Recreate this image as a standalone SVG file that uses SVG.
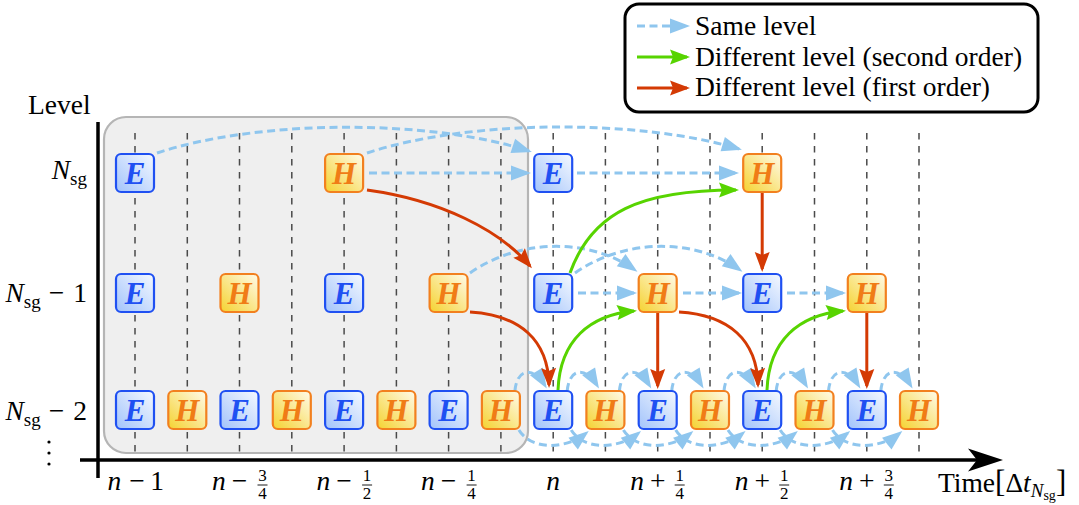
<svg xmlns="http://www.w3.org/2000/svg" width="1079" height="505" viewBox="0 0 1079 505">
<defs>
<style>
.t{font-family:'Liberation Serif','DejaVu Serif',serif;font-size:27.5px;fill:#000}
.it{font-style:italic}
.fr{font-family:'Liberation Serif','DejaVu Serif',serif;font-size:17px;text-anchor:middle}
.nt{font-family:'Liberation Serif','DejaVu Serif',serif;font-size:31px;font-weight:bold;font-style:italic;text-anchor:middle}
.E rect{fill:url(#gE);stroke:#1f50f2;stroke-width:2.2}
.E text{fill:#1f50f2}
.H rect{fill:url(#gH);stroke:#f2801f;stroke-width:2.2}
.H text{fill:#f07c16}
.grid line{stroke:#4a4a4a;stroke-width:1.5;stroke-dasharray:6.5 6.5}
.same{fill:none;stroke:#8fc6ee;stroke-width:3;stroke-dasharray:8 4.5;marker-end:url(#mb)}
.first{fill:none;stroke:#d43a04;stroke-width:3;marker-end:url(#mr)}
.second{fill:none;stroke:#57d400;stroke-width:3;marker-end:url(#mg)}
</style>
<linearGradient id="gE" x1="0" y1="1" x2="1" y2="0">
<stop offset="0" stop-color="#a2c3fb"/><stop offset="1" stop-color="#f5f9ff"/>
</linearGradient>
<linearGradient id="gH" x1="0" y1="1" x2="1" y2="0">
<stop offset="0" stop-color="#f5d230"/><stop offset="1" stop-color="#fffbea"/>
</linearGradient>
<marker id="mb" markerUnits="userSpaceOnUse" orient="auto" overflow="visible" markerWidth="1" markerHeight="1"><path d="M3,0 L-17,-7.5 L-17,7.5 Z" fill="#8fc6ee"/></marker>
<marker id="mr" markerUnits="userSpaceOnUse" orient="auto" overflow="visible" markerWidth="1" markerHeight="1"><path d="M3,0 L-17,-7.5 L-14,0 L-17,7.5 Z" fill="#d43a04"/></marker>
<marker id="mg" markerUnits="userSpaceOnUse" orient="auto" overflow="visible" markerWidth="1" markerHeight="1"><path d="M3,0 L-17,-7.5 L-14,0 L-17,7.5 Z" fill="#57d400"/></marker>
</defs>
<rect width="1079" height="505" fill="#fff"/>

<rect id="past-region" x="104" y="117" width="424" height="336" rx="22" fill="#efefef" stroke="#b5b5b5" stroke-width="2.2"/>

<g class="grid" id="grid">
<line x1="135" y1="133" x2="135" y2="458"/>
<line x1="187.3" y1="133" x2="187.3" y2="458"/>
<line x1="239.5" y1="133" x2="239.5" y2="458"/>
<line x1="291.8" y1="133" x2="291.8" y2="458"/>
<line x1="344.1" y1="133" x2="344.1" y2="458"/>
<line x1="396.4" y1="133" x2="396.4" y2="458"/>
<line x1="448.6" y1="133" x2="448.6" y2="458"/>
<line x1="500.9" y1="133" x2="500.9" y2="458"/>
<line x1="553.2" y1="133" x2="553.2" y2="458"/>
<line x1="605.4" y1="133" x2="605.4" y2="458"/>
<line x1="657.7" y1="133" x2="657.7" y2="458"/>
<line x1="710" y1="133" x2="710" y2="458"/>
<line x1="762.2" y1="133" x2="762.2" y2="458"/>
<line x1="814.5" y1="133" x2="814.5" y2="458"/>
<line x1="866.8" y1="133" x2="866.8" y2="458"/>
<line x1="919" y1="133" x2="919" y2="458"/>
</g>

<g id="axes">
<line x1="98" y1="122" x2="98" y2="478" stroke="#000" stroke-width="3.5"/>
<line x1="80" y1="460" x2="985" y2="460" stroke="#000" stroke-width="3.5"/>
<path d="M1003,460 L968,448.5 L977,460 L968,471.5 Z" fill="#000"/>
</g>

<g id="connectors">
<path class="same" d="M157,153 C260,119 430,119 529,151"/>
<path class="same" d="M367,153 C470,119 640,119 739,149"/>
<path class="same" d="M369,173 L528,173"/>
<path class="same" d="M577,173 L736,173"/>
<path class="same" d="M470,273 C520,238 590,238 635,270"/>
<path class="same" d="M575,273 C625,238 695,238 740,270"/>
<path class="same" d="M578,293 L634,293"/>
<path class="same" d="M683,293 L739,293"/>
<path class="same" d="M787,293 L843,293"/>
<path class="same" d="M514.9,391 C516.9,368 533.2,366 545.2,386"/>
<path class="same" d="M567.2,391 C569.2,368 585.4,366 597.4,386"/>
<path class="same" d="M619.4,391 C621.4,368 637.7,366 649.7,386"/>
<path class="same" d="M671.7,391 C673.7,368 690,366 702,386"/>
<path class="same" d="M724,391 C726,368 742.2,366 754.2,386"/>
<path class="same" d="M776.2,391 C778.2,368 794.5,366 806.5,386"/>
<path class="same" d="M828.5,391 C830.5,368 846.8,366 858.8,386"/>
<path class="same" d="M880.8,391 C882.8,368 899,366 911,386"/>
<path class="same" d="M518.9,430 C530.9,450 565.4,450 586.4,433"/>
<path class="same" d="M571.2,430 C583.2,450 617.7,450 638.7,433"/>
<path class="same" d="M623.4,430 C635.4,450 670,450 691,433"/>
<path class="same" d="M675.7,430 C687.7,450 722.2,450 743.2,433"/>
<path class="same" d="M728,430 C740,450 774.5,450 795.5,433"/>
<path class="same" d="M780.2,430 C792.2,450 826.8,450 847.8,433"/>
<path class="same" d="M832.5,430 C844.5,450 879,450 900,433"/>
<path class="first" d="M367,190 C440,200 500,230 530,266"/>
<path class="first" d="M470,312 C520,315 548,340 549,385"/>
<path class="first" d="M762.2,193 L762.2,269"/>
<path class="first" d="M657.7,313 L657.7,386"/>
<path class="first" d="M679,312 C729,315 757,340 758,385"/>
<path class="first" d="M866.8,313 L866.8,386"/>
<path class="second" d="M570,273 C592,212 640,190 736,190"/>
<path class="second" d="M558,390 C560,340 590,315 634,311"/>
<path class="second" d="M767,390 C769,340 799,315 843,311"/>
</g>

<g id="top-E-0" class="E"><rect x="116" y="154" width="38" height="38" rx="5"/><text class="nt" x="135" y="184">E</text></g>
<g id="top-H-4" class="H"><rect x="325.1" y="154" width="38" height="38" rx="5"/><text class="nt" x="344.1" y="184">H</text></g>
<g id="top-E-8" class="E"><rect x="534.2" y="154" width="38" height="38" rx="5"/><text class="nt" x="553.2" y="184">E</text></g>
<g id="top-H-12" class="H"><rect x="743.2" y="154" width="38" height="38" rx="5"/><text class="nt" x="762.2" y="184">H</text></g>

<g id="mid-E-0" class="E"><rect x="116" y="274" width="38" height="38" rx="5"/><text class="nt" x="135" y="304">E</text></g>
<g id="mid-H-2" class="H"><rect x="220.5" y="274" width="38" height="38" rx="5"/><text class="nt" x="239.5" y="304">H</text></g>
<g id="mid-E-4" class="E"><rect x="325.1" y="274" width="38" height="38" rx="5"/><text class="nt" x="344.1" y="304">E</text></g>
<g id="mid-H-6" class="H"><rect x="429.6" y="274" width="38" height="38" rx="5"/><text class="nt" x="448.6" y="304">H</text></g>
<g id="mid-E-8" class="E"><rect x="534.2" y="274" width="38" height="38" rx="5"/><text class="nt" x="553.2" y="304">E</text></g>
<g id="mid-H-10" class="H"><rect x="638.7" y="274" width="38" height="38" rx="5"/><text class="nt" x="657.7" y="304">H</text></g>
<g id="mid-E-12" class="E"><rect x="743.2" y="274" width="38" height="38" rx="5"/><text class="nt" x="762.2" y="304">E</text></g>
<g id="mid-H-14" class="H"><rect x="847.8" y="274" width="38" height="38" rx="5"/><text class="nt" x="866.8" y="304">H</text></g>

<g id="bot-E-0" class="E"><rect x="116" y="391" width="38" height="38" rx="5"/><text class="nt" x="135" y="421">E</text></g>
<g id="bot-H-1" class="H"><rect x="168.3" y="391" width="38" height="38" rx="5"/><text class="nt" x="187.3" y="421">H</text></g>
<g id="bot-E-2" class="E"><rect x="220.5" y="391" width="38" height="38" rx="5"/><text class="nt" x="239.5" y="421">E</text></g>
<g id="bot-H-3" class="H"><rect x="272.8" y="391" width="38" height="38" rx="5"/><text class="nt" x="291.8" y="421">H</text></g>
<g id="bot-E-4" class="E"><rect x="325.1" y="391" width="38" height="38" rx="5"/><text class="nt" x="344.1" y="421">E</text></g>
<g id="bot-H-5" class="H"><rect x="377.4" y="391" width="38" height="38" rx="5"/><text class="nt" x="396.4" y="421">H</text></g>
<g id="bot-E-6" class="E"><rect x="429.6" y="391" width="38" height="38" rx="5"/><text class="nt" x="448.6" y="421">E</text></g>
<g id="bot-H-7" class="H"><rect x="481.9" y="391" width="38" height="38" rx="5"/><text class="nt" x="500.9" y="421">H</text></g>
<g id="bot-E-8" class="E"><rect x="534.2" y="391" width="38" height="38" rx="5"/><text class="nt" x="553.2" y="421">E</text></g>
<g id="bot-H-9" class="H"><rect x="586.4" y="391" width="38" height="38" rx="5"/><text class="nt" x="605.4" y="421">H</text></g>
<g id="bot-E-10" class="E"><rect x="638.7" y="391" width="38" height="38" rx="5"/><text class="nt" x="657.7" y="421">E</text></g>
<g id="bot-H-11" class="H"><rect x="691" y="391" width="38" height="38" rx="5"/><text class="nt" x="710" y="421">H</text></g>
<g id="bot-E-12" class="E"><rect x="743.2" y="391" width="38" height="38" rx="5"/><text class="nt" x="762.2" y="421">E</text></g>
<g id="bot-H-13" class="H"><rect x="795.5" y="391" width="38" height="38" rx="5"/><text class="nt" x="814.5" y="421">H</text></g>
<g id="bot-E-14" class="E"><rect x="847.8" y="391" width="38" height="38" rx="5"/><text class="nt" x="866.8" y="421">E</text></g>
<g id="bot-H-15" class="H"><rect x="900" y="391" width="38" height="38" rx="5"/><text class="nt" x="919" y="421">H</text></g>

<g id="y-labels">
<text class="t" x="28" y="114">Level</text>
<text class="t" x="87" y="179" text-anchor="end"><tspan class="it">N</tspan><tspan font-size="19" dy="6">sg</tspan></text>
<text class="t" x="87" y="302" text-anchor="end"><tspan class="it">N</tspan><tspan font-size="19" dy="6">sg</tspan><tspan dy="-6" dx="8">−</tspan><tspan dx="9">1</tspan></text>
<text class="t" x="87" y="420" text-anchor="end"><tspan class="it">N</tspan><tspan font-size="19" dy="6">sg</tspan><tspan dy="-6" dx="8">−</tspan><tspan dx="9">2</tspan></text>
<circle cx="49" cy="442" r="1.6"/><circle cx="49" cy="453" r="1.6"/><circle cx="49" cy="464" r="1.6"/>
</g>

<g id="x-labels">
<text class="t" x="107.5" y="490"><tspan class="it">n</tspan></text><text class="t" x="137" y="490" text-anchor="middle">−</text><text class="t" x="157" y="490" text-anchor="middle">1</text>

<text class="t" x="212" y="490"><tspan class="it">n</tspan></text><text class="t" x="239.5" y="490" text-anchor="middle">−</text>
<text class="fr" x="262.5" y="481">3</text><line x1="257.5" y1="485" x2="267.5" y2="485" stroke="#000" stroke-width="0.9"/><text class="fr" x="262.5" y="499">4</text>

<text class="t" x="316.6" y="490"><tspan class="it">n</tspan></text><text class="t" x="344.1" y="490" text-anchor="middle">−</text>
<text class="fr" x="367.1" y="481">1</text><line x1="362.1" y1="485" x2="372.1" y2="485" stroke="#000" stroke-width="0.9"/><text class="fr" x="367.1" y="499">2</text>

<text class="t" x="421.1" y="490"><tspan class="it">n</tspan></text><text class="t" x="448.6" y="490" text-anchor="middle">−</text>
<text class="fr" x="471.6" y="481">1</text><line x1="466.6" y1="485" x2="476.6" y2="485" stroke="#000" stroke-width="0.9"/><text class="fr" x="471.6" y="499">4</text>

<text class="t it" x="553.2" y="490" text-anchor="middle">n</text>

<text class="t" x="630.2" y="490"><tspan class="it">n</tspan></text><text class="t" x="657.7" y="490" text-anchor="middle">+</text>
<text class="fr" x="679.7" y="481">1</text><line x1="674.7" y1="485" x2="684.7" y2="485" stroke="#000" stroke-width="0.9"/><text class="fr" x="679.7" y="499">4</text>

<text class="t" x="734.7" y="490"><tspan class="it">n</tspan></text><text class="t" x="762.2" y="490" text-anchor="middle">+</text>
<text class="fr" x="784.2" y="481">1</text><line x1="779.2" y1="485" x2="789.2" y2="485" stroke="#000" stroke-width="0.9"/><text class="fr" x="784.2" y="499">2</text>

<text class="t" x="839.3" y="490"><tspan class="it">n</tspan></text><text class="t" x="866.8" y="490" text-anchor="middle">+</text>
<text class="fr" x="888.8" y="481">3</text><line x1="883.8" y1="485" x2="893.8" y2="485" stroke="#000" stroke-width="0.9"/><text class="fr" x="888.8" y="499">4</text>

<text class="t" x="938" y="492">Time<tspan font-size="31">[</tspan>Δ<tspan class="it">t</tspan><tspan class="it" font-size="19" dy="5">N</tspan><tspan font-size="14" dy="3">sg</tspan><tspan font-size="31" dy="-8">]</tspan></text>
</g>

<g id="legend">
<rect x="625" y="4" width="413" height="108" rx="14" fill="#fff" stroke="#000" stroke-width="3"/>
<path class="same" d="M637,26 L687,26"/>
<path class="second" d="M637,57 L687,57"/>
<path class="first" d="M637,88 L687,88"/>
<text class="t" x="695" y="35">Same level</text>
<text class="t" x="695" y="66">Different level (second order)</text>
<text class="t" x="695" y="96">Different level (first order)</text>
</g>
</svg>
